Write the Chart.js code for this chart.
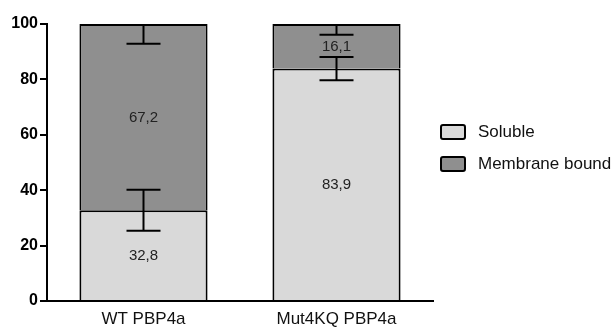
<!DOCTYPE html>
<html>
<head>
<meta charset="utf-8">
<script src="https://cdn.jsdelivr.net/npm/chart.js@4/dist/chart.umd.min.js"></script>
<style>
  html, body { margin: 0; padding: 0; background: #ffffff; }
  #wrap { width: 615px; height: 327px; position: relative; }
</style>
</head>
<body>
<div id="wrap"><canvas id="c" width="615" height="327"></canvas></div>
<script>
// Fraction of PBP4a found in each compartment (% of total)
const categories = ['WT PBP4a', 'Mut4KQ PBP4a'];
const soluble = [32.8, 83.9];
const membraneBound = [67.2, 16.1];
// Error values: soluble drawn both ways around its top, membrane drawn down from the stack top
const solubleErr = [7.4, 4.2];
const membraneErr = [7.1, 3.9];
const yTicks = [0, 20, 40, 60, 80, 100];

const FONT = '"Liberation Sans", Arial, Helvetica, sans-serif';
const LIGHT = '#d9d9d9';
const DARK = '#8f8f8f';

const fmt = v => v.toFixed(1).replace('.', ',');

// Error bars with caps
const errorBars = {
  id: 'errorBars',
  afterDatasetsDraw(chart) {
    const ctx = chart.ctx;
    const y = chart.scales.y;
    const cap = 17;
    ctx.save();
    ctx.strokeStyle = '#000';
    ctx.lineWidth = 2;
    const line = (x, v1, v2) => {
      ctx.beginPath();
      ctx.moveTo(x, y.getPixelForValue(v1));
      ctx.lineTo(x, y.getPixelForValue(v2));
      ctx.stroke();
    };
    const capAt = (x, v) => {
      const py = y.getPixelForValue(v);
      ctx.beginPath();
      ctx.moveTo(x - cap, py);
      ctx.lineTo(x + cap, py);
      ctx.stroke();
    };
    const m0 = chart.getDatasetMeta(0);
    categories.forEach((_, i) => {
      const x = m0.data[i].x;
      const s = soluble[i], e = solubleErr[i];
      line(x, s - e, s + e);
      capAt(x, s - e);
      capAt(x, s + e);
      const top = soluble[i] + membraneBound[i];
      const me = membraneErr[i];
      line(x, top, top - me);
      capAt(x, top - me);
    });
    ctx.restore();
  }
};

// Value printed in the middle of each segment
const segmentLabels = {
  id: 'segmentLabels',
  afterDatasetsDraw(chart) {
    const ctx = chart.ctx;
    ctx.save();
    ctx.font = '15px ' + FONT;
    ctx.fillStyle = '#222';
    ctx.textAlign = 'center';
    ctx.textBaseline = 'middle';
    chart.data.datasets.forEach((ds, di) => {
      const meta = chart.getDatasetMeta(di);
      meta.data.forEach((bar, i) => {
        const yMid = (bar.y + bar.base) / 2;
        ctx.fillText(fmt(ds.data[i]), bar.x, yMid + 1);
      });
    });
    ctx.restore();
  }
};

// Legend to the right of the plot
const sideLegend = {
  id: 'sideLegend',
  afterDraw(chart) {
    const ctx = chart.ctx;
    const x0 = chart.chartArea.right + 8;
    const y0 = 125;
    const step = 32;
    ctx.save();
    chart.data.datasets.forEach((ds, i) => {
      const by = y0 + i * step;
      ctx.fillStyle = ds.backgroundColor;
      ctx.strokeStyle = '#000';
      ctx.lineWidth = 2;
      ctx.beginPath();
      ctx.roundRect(x0, by, 24, 14, 2);
      ctx.fill();
      ctx.stroke();
      ctx.fillStyle = '#111';
      ctx.font = '17px ' + FONT;
      ctx.textAlign = 'left';
      ctx.textBaseline = 'middle';
      ctx.fillText(ds.label, x0 + 37, by + 7);
    });
    ctx.restore();
  }
};

new Chart(document.getElementById('c'), {
  type: 'bar',
  data: {
    labels: categories,
    datasets: [
      {
        label: 'Soluble',
        data: soluble,
        backgroundColor: LIGHT,
        borderColor: '#000',
        borderWidth: 2,
        borderSkipped: 'start'
      },
      {
        label: 'Membrane bound',
        data: membraneBound,
        backgroundColor: DARK,
        borderColor: '#000',
        borderWidth: 2,
        borderSkipped: 'start'
      }
    ]
  },
  options: {
    responsive: false,
    animation: false,
    devicePixelRatio: 1,
    layout: { padding: { top: 24, right: 182, bottom: 0, left: 0 } },
    datasets: { bar: { categoryPercentage: 0.664, barPercentage: 1 } },
    plugins: {
      legend: { display: false },
      tooltip: { enabled: false }
    },
    scales: {
      x: {
        stacked: true,
        grid: { display: false, drawTicks: false },
        border: { display: true, color: '#000', width: 2 },
        ticks: { color: '#111', font: { family: FONT, size: 17 }, padding: 8 },
        afterFit(s) { s.height = 26; }
      },
      y: {
        stacked: true,
        min: 0,
        max: 100,
        afterBuildTicks(s) { s.ticks = yTicks.map(v => ({ value: v })); },
        grid: { drawOnChartArea: false, drawTicks: true, tickLength: 7, lineWidth: 2, color: '#000' },
        border: { display: true, color: '#000', width: 2 },
        ticks: { color: '#000', font: { family: FONT, size: 16, weight: 'bold' }, padding: 2 },
        afterFit(s) { s.width = 47; }
      }
    }
  },
  plugins: [errorBars, segmentLabels, sideLegend]
});
</script>
</body>
</html>
